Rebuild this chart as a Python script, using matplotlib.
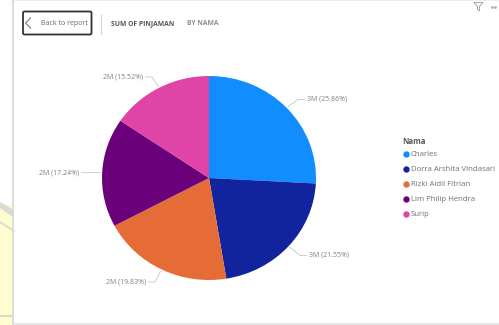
import matplotlib
matplotlib.use('Agg')
import numpy as np
import matplotlib.pyplot as plt
from matplotlib.patches import FancyBboxPatch, Rectangle, Polygon

names = ['Charles', 'Dorra Arshita Vindasari', 'Rizki Aidil Fitrian', 'Lim Philip Hendra', 'Surip']
share = [25.86, 21.55, 19.83, 17.24, 15.52]
amount = ['3M', '3M', '2M', '2M', '2M']
colors = ['#118DFF', '#12239E', '#E66C37', '#6B007B', '#E044A7']
title_main = 'SUM OF PINJAMAN'
title_by = 'BY NAMA'
legend_title = 'Nama'

W, H = 499, 325
plt.rcParams['font.family'] = ['Open Sans', 'DejaVu Sans']

fig = plt.figure(figsize=(W / 100, H / 100), dpi=100)
bg = fig.add_axes([0, 0, 1, 1])
bg.set_xlim(0, W)
bg.set_ylim(H, 0)
bg.axis('off')

# page behind the visual: white on top, pale yellow with grey bands lower down
bg.add_patch(Rectangle((0, 205), 14, 120, fc='#FFFCCF', ec='none'))
bg.add_patch(Polygon([[0, 202], [14, 210], [14, 218], [0, 208]], fc='#D9D9D6', ec='none'))
bg.plot([0, 14], [222, 231], color='#D9D9CC', lw=1.2)
bg.add_patch(Rectangle((0, 315), 14, 1.5, fc='#D9D9CC', ec='none'))
bg.add_patch(Rectangle((14, 0), W - 14, 323, fc='white', ec='none'))
bg.plot([13.5, 13.5], [0, 325], color='#DADADA', lw=1.3)
bg.plot([14, W], [323.5, 323.5], color='#E2E2E2', lw=1.2)
bg.plot([14, W], [0.3, 0.3], color='#EEEEEE', lw=0.8)

# back button
bg.add_patch(FancyBboxPatch((23, 11.5), 68.5, 23, boxstyle='round,pad=0,rounding_size=1.5',
                            fc='white', ec='#333333', lw=1.3))
bg.plot([30.5, 25.5, 30.5], [18, 23, 28], color='#888888', lw=0.9)
bg.text(41, 23.5, 'Back to report', fontsize=5, color='#666666', va='center')
bg.plot([101, 101], [15, 34], color='#D4D4D4', lw=0.8)
bg.text(111, 23.5, title_main, fontsize=4.9, fontweight='bold', color='#555555', va='center')
bg.text(187, 23.5, title_by, fontsize=4.9, fontweight='bold', color='#909090', va='center')

# filter icon and more-options dots
bg.add_patch(Polygon([[474, 2.5], [483, 2.5], [479.5, 6.5], [479.5, 11], [477.5, 9.5], [477.5, 6.5]],
                     fc='white', ec='#999999', lw=0.6))
bg.plot([492, 495], [6.5, 6.5], ls='none', marker='o', ms=0.9, color='#AAAAAA')

# pie, a little wider than tall
cx, cy, rx, ry = 209, 178, 107, 102
ax = fig.add_axes([(cx - rx) / W, 1 - (cy + ry) / H, 2 * rx / W, 2 * ry / H])
ax.pie(share, colors=colors, startangle=90, counterclock=False, radius=1,
       wedgeprops=dict(ec='none'))
ax.set_aspect('auto')
ax.set_xlim(-1, 1)
ax.set_ylim(-1, 1)

# data labels with leader lines
label_pos = [(307, 99.5, 'left'), (309, 255.5, 'left'), (146, 282, 'right'), (79, 172.7, 'right'), (143, 77, 'right')]
start = 0
for i in range(len(share)):
    mid = np.deg2rad((start + share[i] / 2) * 3.6)
    start += share[i]
    x0 = cx + (rx + 2) * np.sin(mid)
    y0 = cy - (ry + 2) * np.cos(mid)
    lx, ly, side = label_pos[i]
    elbow = lx - 9 if side == 'left' else lx + 9
    end = lx - 2.5 if side == 'left' else lx + 2.5
    bg.plot([x0, elbow, end], [y0, ly, ly], color='#C4C4C4', lw=0.6)
    bg.text(lx, ly, f'{amount[i]} ({share[i]:.2f}%)', fontsize=5, color='#808080',
            ha=side, va='center', zorder=5)

# legend
bg.text(402, 141.5, legend_title, fontsize=5.6, fontweight='bold', color='#555555', va='center')
for i, name in enumerate(names):
    y = 154 + i * 15.1
    bg.plot([405.7], [y], marker='o', ms=4.6, color=colors[i], mec='none')
    bg.text(410.7, y, name, fontsize=5.6, color='#707070', va='center')

fig.savefig('out.png', dpi=100)
